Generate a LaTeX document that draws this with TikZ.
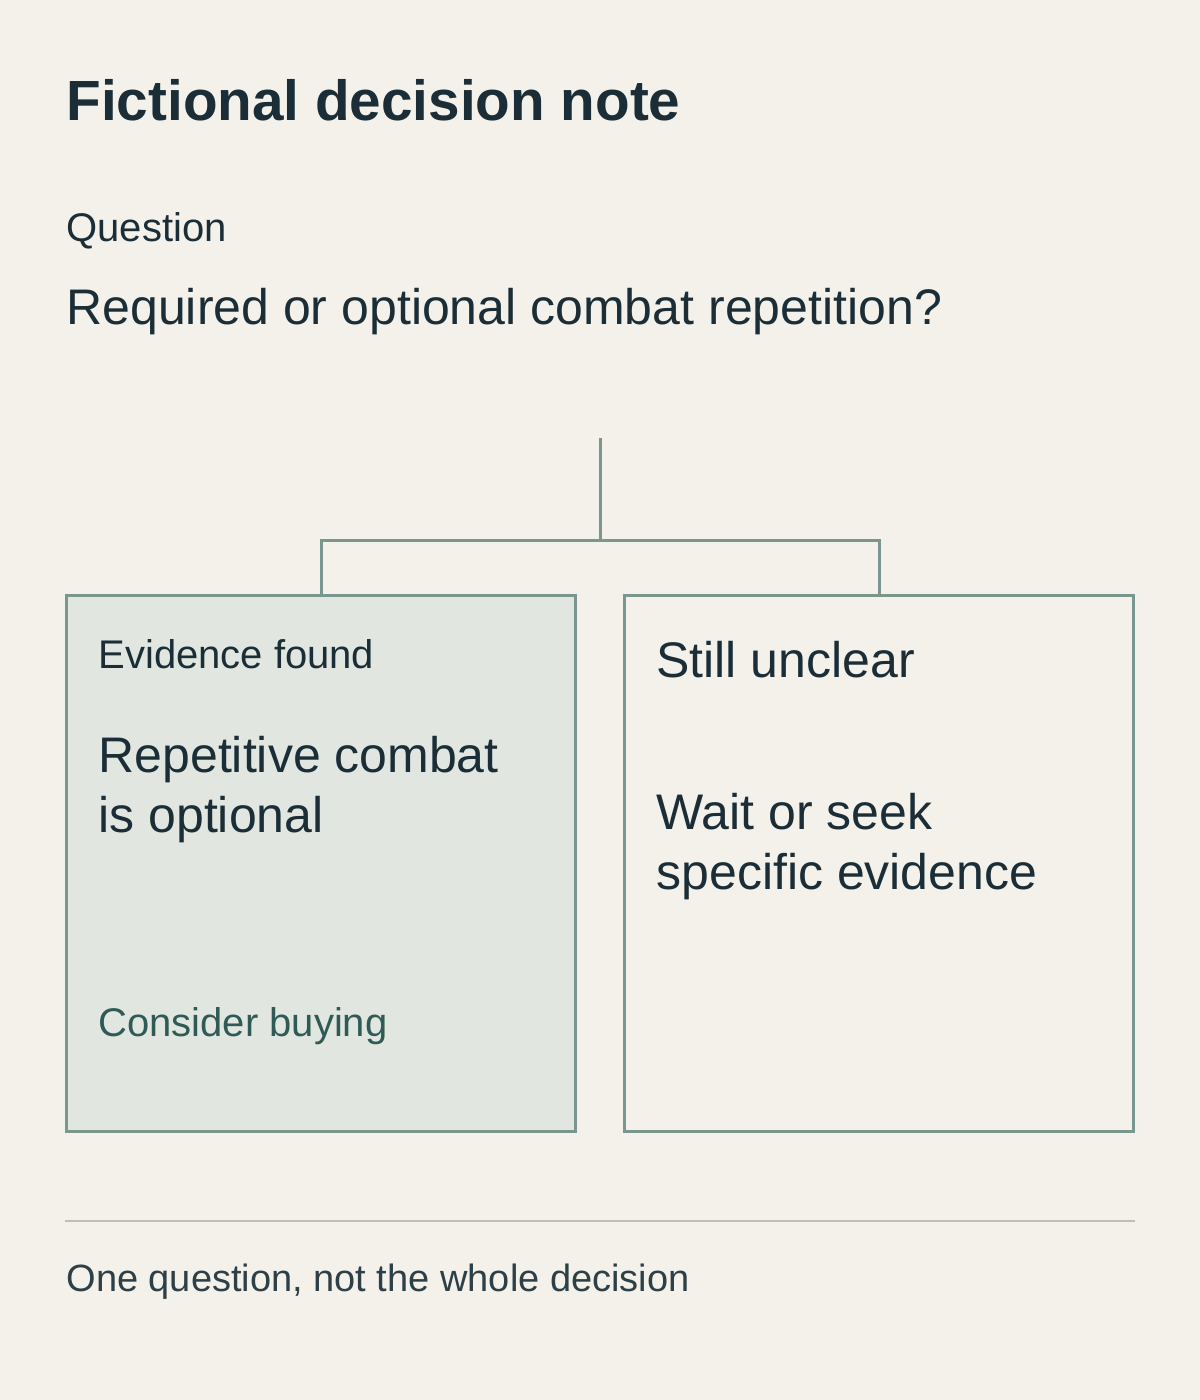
\documentclass[tikz,border=0pt]{standalone}
\usepackage{fontspec}
\setmainfont{Liberation Sans}
\usetikzlibrary{calc}
\definecolor{paper}{HTML}{F3F1EA}
\definecolor{ink}{HTML}{1B2E37}
\definecolor{stroke}{HTML}{7A978F}
\definecolor{pale}{HTML}{E1E7E0}
\definecolor{leaf}{HTML}{2F5A55}
\definecolor{rule}{HTML}{BDBFB8}
\tikzset{every picture/.style={line width=2.25pt}}
\tikzset{
  txt/.style={anchor=base west,inner sep=0pt,text=ink},
  box/.style={draw=stroke,anchor=north west,minimum width=382pt,minimum height=402pt,inner sep=0pt},
  link/.style={draw=stroke}
}
\begin{document}
\begin{tikzpicture}[x=0.75pt,y=0.75pt,yscale=-1,xscale=1]
		%Background
		\fill[paper] (0,0) rectangle (1200,1400);
		\useasboundingbox (0,0) rectangle (1200,1400);
		
		% Header texts
		\node (title) [txt,font=\fontsize{42.5}{50}\bfseries\selectfont] at (65,120) {Fictional decision note};
		\node (qlabel) [txt,font=\fontsize{30}{36}\selectfont] at (65,241) {Question};
		\node (qtext) [txt,font=\fontsize{37.5}{44}\selectfont] at (65,324) {Required or optional combat repetition?};
		
		% Boxes
		\node (left) [box,fill=pale] at (65,594) {};
		\node (right) [box] at (623,594) {};
		
		% Tree connectors
		\coordinate (stem) at (600,438);
		\coordinate (fork) at (600,540);
		\draw[link] (stem) -- (fork);
		\draw[link] (left.north) -- ++(0,-54) -- ($(right.north)+(0,-54)$) -- (right.north);
		
		% Left box texts
		\node (evid) [txt,font=\fontsize{30}{36}\selectfont] at (97,668) {Evidence found};
		\node (rep1) [txt,font=\fontsize{37.5}{44}\selectfont] at (97,772) {Repetitive combat};
		\node (rep2) [txt,font=\fontsize{37.5}{44}\selectfont] at (97,832) {is optional};
		\node (buy) [txt,text=leaf,font=\fontsize{30}{36}\selectfont] at (97,1036) {Consider buying};
		
		% Right box texts
		\node (still) [txt,font=\fontsize{37.5}{44}\selectfont] at (655,677) {Still unclear};
		\node (wait1) [txt,font=\fontsize{37.5}{44}\selectfont] at (655,829) {Wait or seek};
		\node (wait2) [txt,font=\fontsize{37.5}{44}\selectfont] at (655,889) {specific evidence};
		
		% Footer
		\coordinate (ruleL) at (65,1221);
		\coordinate (ruleR) at (1135,1221);
		\draw[rule,line width=1.2pt] (ruleL) -- (ruleR);
		\node (foot) [txt,font=\fontsize{28.5}{34}\selectfont,text=ink!92] at (65,1291) {One question, not the whole decision};
\end{tikzpicture}
\end{document}
